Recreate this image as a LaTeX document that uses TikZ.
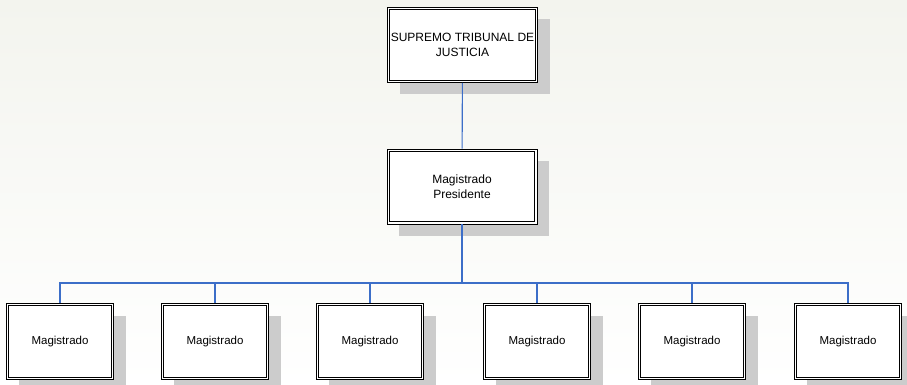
\documentclass[tikz,border=0pt]{standalone}
\usepackage{fontspec}
\setmainfont{Liberation Sans}
\definecolor{linkblue}{RGB}{60,110,200}
\definecolor{shadowgray}{RGB}{204,204,204}
\definecolor{paper}{RGB}{243,244,238}
\tikzset{
  box/.style={draw=black, line width=0.7pt, fill=white,
    align=center, inner sep=2pt,
    preaction={fill=shadowgray, transform canvas={xshift=12pt, yshift=-12pt}},
    path picture={\draw[line width=0.7pt]
      ([shift={(2.3pt,2.3pt)}]path picture bounding box.south west) rectangle
      ([shift={(-2.3pt,-2.3pt)}]path picture bounding box.north east);}},
  headbox/.style={box, minimum width=150pt, minimum height=75pt,
    font=\fontsize{12}{14.5}\selectfont},
  magbox/.style={box, minimum width=107pt, minimum height=76pt,
    font=\fontsize{11.5}{14}\selectfont},
  link/.style={draw=linkblue, line width=1.1pt}
}
\begin{document}
\begin{tikzpicture}[x=1pt, y=-1pt]
      \shade[top color=paper, bottom color=white] (0,0) rectangle (907,385);
      \useasboundingbox (0,0) rectangle (907,385);
      \node[headbox] (stj) at (462.5,45) {SUPREMO TRIBUNAL DE\\JUSTICIA};
      \node[headbox] (pres) at (462,186.5) {Magistrado\\Presidente};
      \node[magbox] (m1) at (60,341.5) {Magistrado};
      \node[magbox] (m2) at (215,341.5) {Magistrado};
      \node[magbox] (m3) at (370,341.5) {Magistrado};
      \node[magbox] (m4) at (537,341.5) {Magistrado};
      \node[magbox] (m5) at (692,341.5) {Magistrado};
      \node[magbox] (m6) at (848,341.5) {Magistrado};
      \coordinate (bus) at (462,283);
      \begin{scope}[link]
        \draw (stj) to (pres);
        \draw (pres) to (bus);
        \draw (m1.north) |- (bus);
        \draw (m2.north) |- (bus);
        \draw (m3.north) |- (bus);
        \draw (m4.north) |- (bus);
        \draw (m5.north) |- (bus);
        \draw (m6.north) |- (bus);
      \end{scope}
    \end{tikzpicture}
\end{document}
